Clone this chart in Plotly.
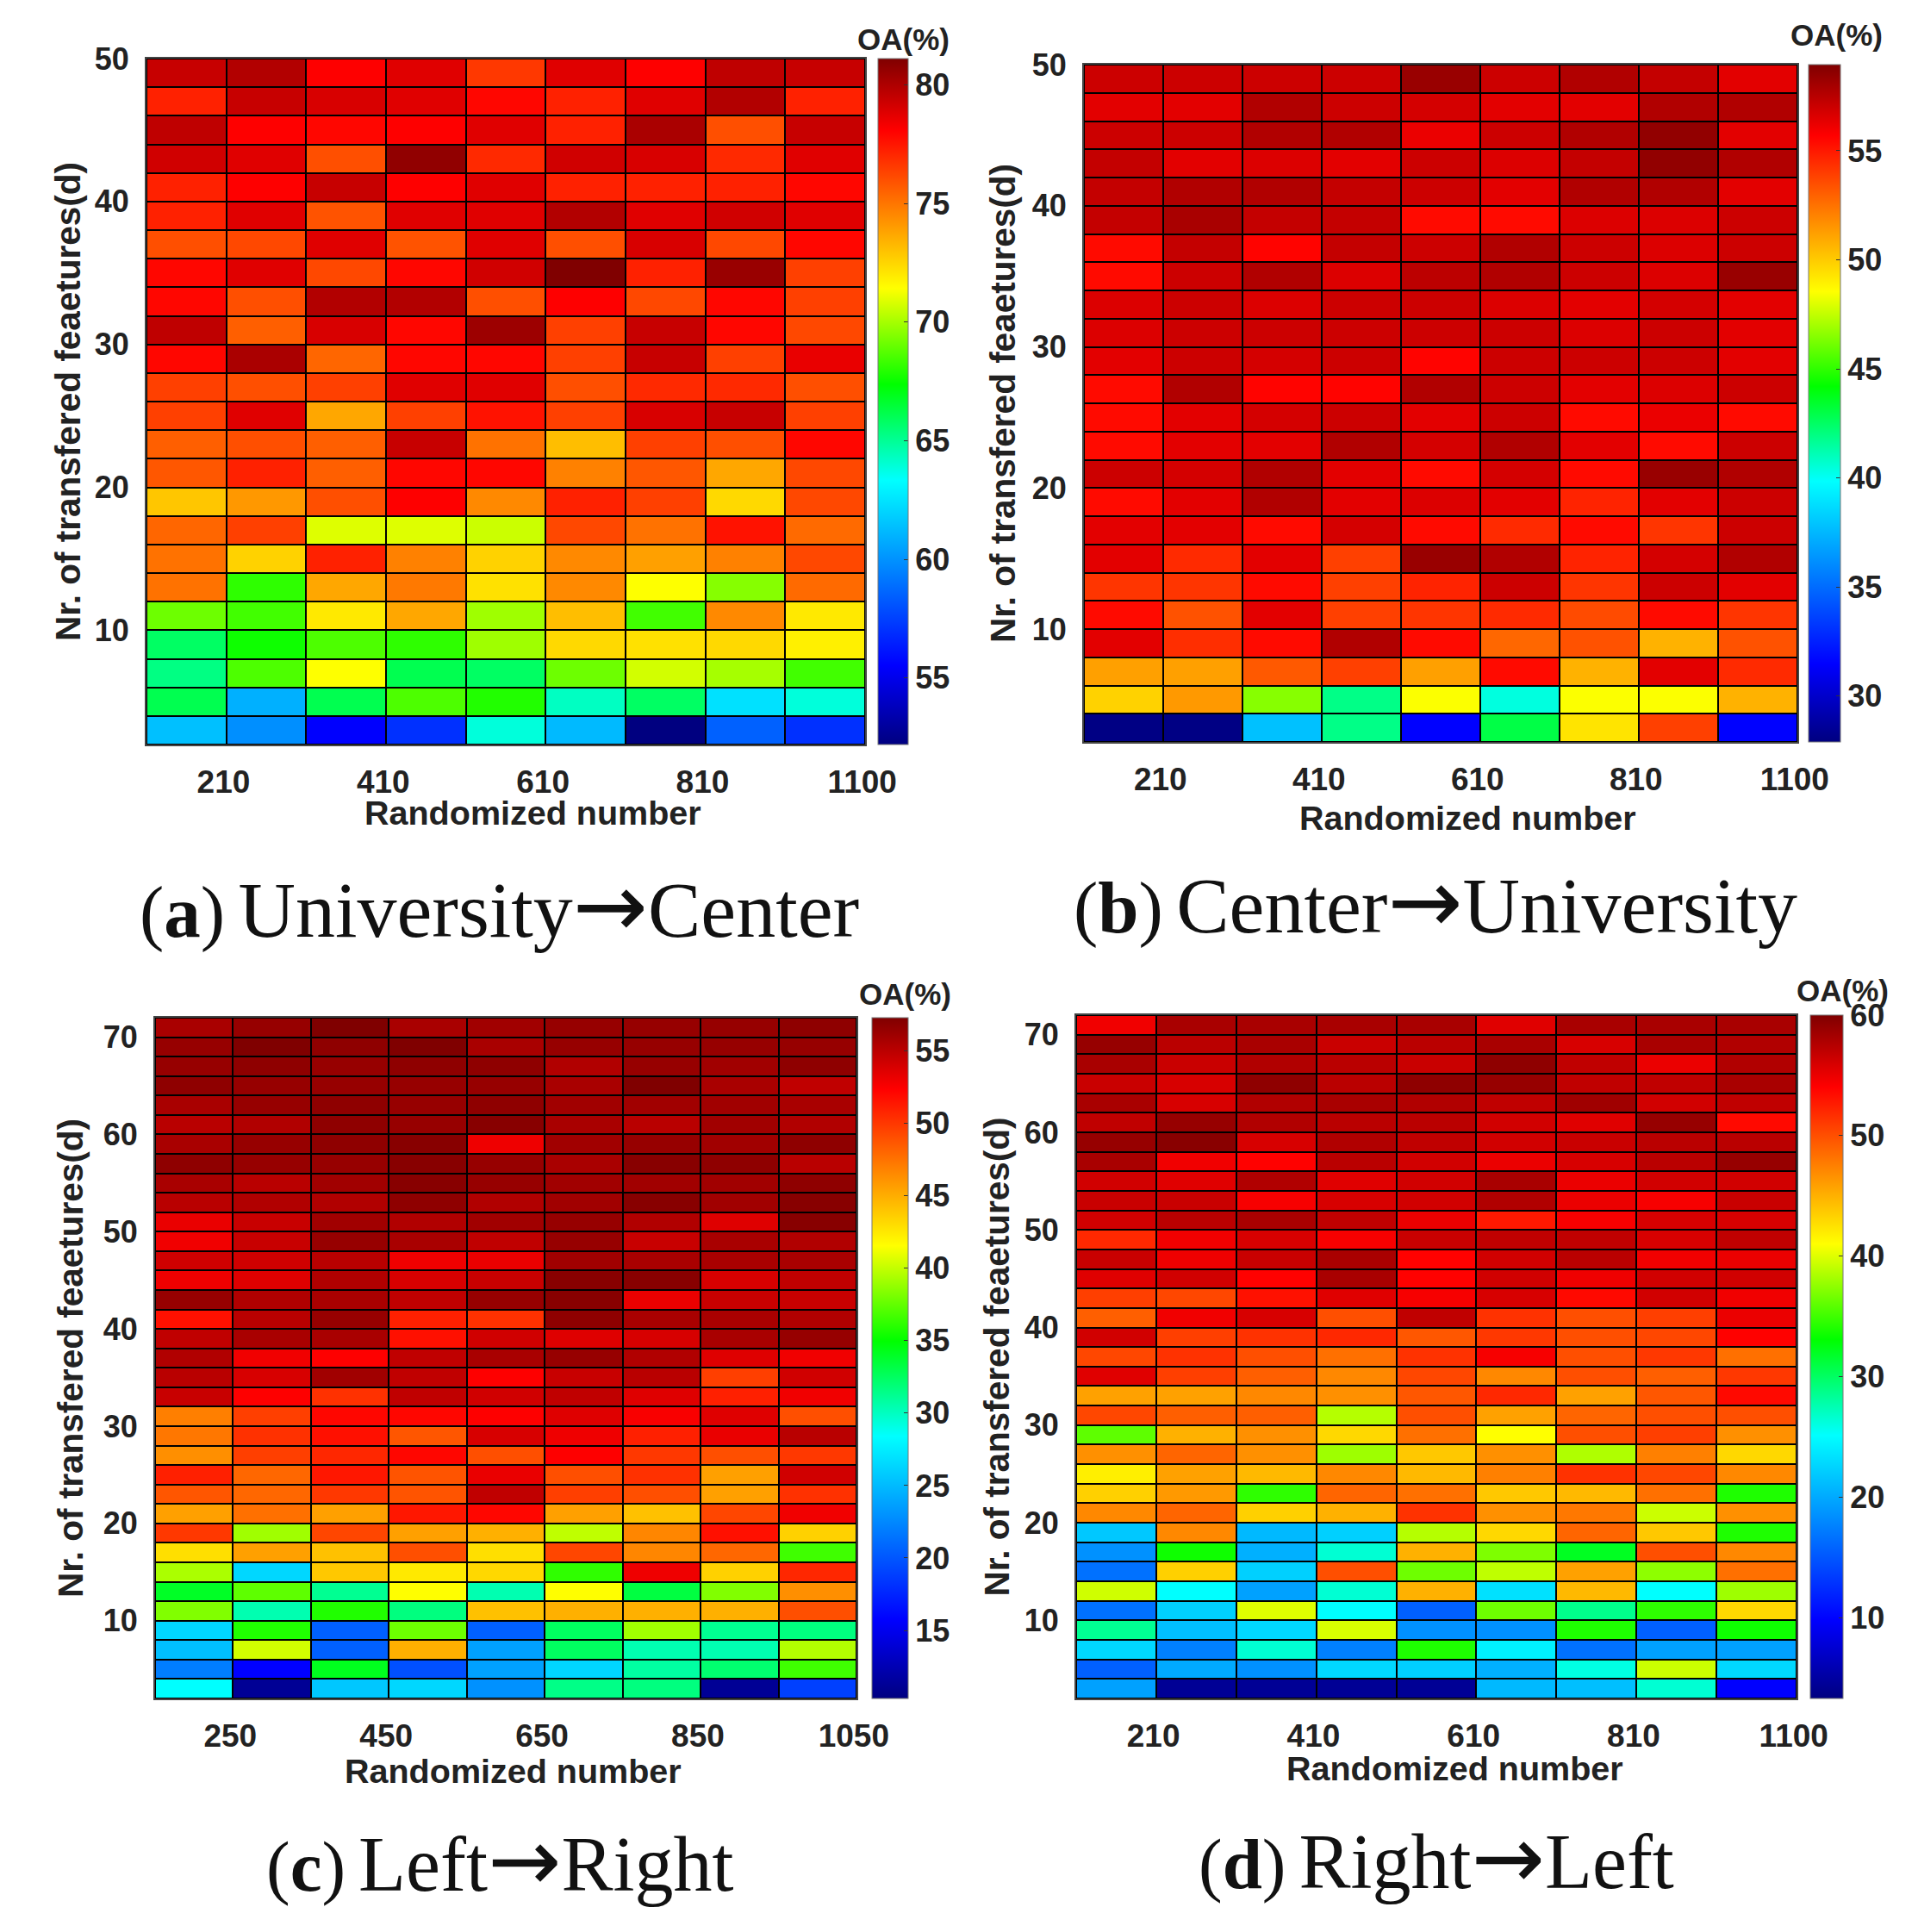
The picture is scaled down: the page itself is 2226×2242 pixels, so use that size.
# OA heatmaps for the four transfer tasks
import plotly.graph_objects as go

x_edges = [0, 1, 2, 3, 4, 5, 6, 7, 8, 9]
y_edges_short = [50, 48, 46, 44, 42, 40, 38, 36, 34, 32, 30, 28, 26, 24, 22, 20, 18, 16, 14, 12, 10, 8, 6, 4, 2]
y_edges_long = [72, 70, 68, 66, 64, 62, 60, 58, 56, 54, 52, 50, 48, 46, 44, 42, 40, 38, 36, 34, 32, 30, 28, 26, 24, 22,
                20, 18, 16, 14, 12, 10, 8, 6, 4, 2]

x_ticks = [0.965, 2.965, 4.965, 6.965, 8.965]
x_labels_abd = ["210", "410", "610", "810", "1100"]
x_labels_c = ["250", "450", "650", "850", "1050"]

oa_a = [
    [79.4, 79.9, 78.1, 78.8, 76.6, 78.8, 78.1, 79.6, 79.4],
    [77.2, 79.4, 79.0, 78.8, 77.9, 77.2, 78.8, 79.9, 77.2],
    [79.6, 78.1, 77.9, 78.1, 78.8, 77.2, 80.1, 76.0, 79.4],
    [79.2, 78.8, 76.0, 80.7, 77.0, 79.2, 79.0, 77.0, 78.8],
    [77.2, 78.1, 79.4, 78.1, 78.8, 77.2, 77.2, 77.2, 77.9],
    [77.2, 78.8, 75.9, 78.8, 78.8, 79.9, 78.8, 79.2, 78.8],
    [76.0, 76.2, 78.8, 75.9, 78.8, 76.0, 79.0, 76.2, 77.9],
    [77.9, 78.8, 76.2, 77.9, 79.2, 81.1, 77.2, 80.5, 76.4],
    [77.9, 76.0, 79.9, 79.9, 76.0, 78.1, 76.2, 77.9, 76.4],
    [79.6, 75.6, 79.0, 77.9, 80.4, 76.4, 79.4, 77.9, 76.2],
    [77.9, 80.1, 75.4, 77.9, 77.9, 76.4, 79.4, 76.4, 78.6],
    [76.4, 76.0, 76.4, 78.8, 78.8, 76.0, 77.0, 77.0, 76.0],
    [76.4, 78.8, 73.7, 76.4, 77.6, 76.4, 79.0, 79.4, 76.4],
    [75.6, 76.0, 75.6, 79.4, 75.1, 73.1, 76.4, 76.0, 77.9],
    [75.8, 77.2, 75.6, 77.9, 77.9, 74.7, 75.8, 73.7, 76.2],
    [72.9, 74.1, 76.0, 78.1, 74.5, 77.2, 76.4, 72.4, 76.2],
    [75.4, 76.4, 70.9, 70.9, 70.6, 76.2, 75.1, 77.6, 75.3],
    [75.1, 72.6, 77.2, 74.7, 72.6, 74.5, 73.9, 74.7, 76.2],
    [75.1, 68.1, 73.7, 74.9, 72.2, 74.5, 71.4, 69.5, 75.3],
    [69.1, 68.4, 72.0, 73.7, 69.9, 73.1, 68.4, 74.5, 72.0],
    [65.8, 67.6, 68.6, 68.1, 69.9, 72.4, 72.2, 72.4, 71.8],
    [65.3, 68.6, 71.4, 66.1, 65.8, 69.1, 70.7, 70.0, 68.4],
    [66.1, 60.9, 66.1, 68.6, 67.9, 64.3, 65.8, 62.4, 63.9],
    [61.4, 59.9, 55.5, 57.0, 63.9, 61.2, 52.2, 58.5, 57.0],
]

oa_b = [
    [57, 57, 57, 57, 58.3, 57, 57.7, 57.2, 56.4],
    [56.4, 56.4, 57.7, 57, 56.8, 56.4, 56.4, 57.7, 57.7],
    [57, 57, 57.7, 57.7, 56.2, 57, 57.7, 58.5, 56.4],
    [57.2, 56.4, 56.6, 56.4, 57, 56.6, 57.2, 58.5, 57.7],
    [57.2, 57.7, 57.7, 57.2, 57, 56.4, 57.7, 57.7, 56.4],
    [57.2, 57.9, 57.2, 57.2, 55.4, 55.4, 56.6, 56.6, 57],
    [55.4, 57.2, 55.6, 57.2, 57, 57.7, 57, 56.6, 57],
    [55.4, 57, 57.7, 56.6, 57.4, 57.7, 57, 56.6, 58.3],
    [56.6, 57, 56.6, 57, 57, 56.6, 56.4, 56.8, 56.4],
    [56.6, 57, 57, 57, 57, 57, 56.6, 57, 56.4],
    [56.4, 57, 56.8, 57, 55.6, 57, 57, 57, 56.4],
    [55.4, 57.7, 55.6, 55.6, 57.7, 57, 56.4, 56.6, 57],
    [55.4, 56.4, 56.8, 57, 56.4, 57, 55.4, 56.2, 55.4],
    [55.4, 56.4, 56.4, 57.7, 56.8, 57.7, 56.4, 55.4, 57],
    [57, 56.8, 57.7, 56.4, 55.4, 56.8, 55.4, 58.3, 57.7],
    [55.4, 56.4, 57.7, 56.4, 56.6, 56.4, 54.7, 56.4, 57],
    [56.4, 56.4, 55.4, 56.8, 55.4, 54.5, 55.4, 54.2, 57],
    [56.4, 54.5, 56.4, 53.9, 58.3, 57.7, 54.7, 56.8, 57.7],
    [54.2, 54.2, 55.4, 53.9, 54.7, 57, 54.2, 57, 56.4],
    [55.4, 53.4, 56.4, 53.9, 54.2, 54.5, 53.6, 55.4, 54.2],
    [56.4, 54.4, 55.4, 57.7, 55.4, 52.8, 53.4, 50.7, 53.4],
    [51.2, 51.2, 53.2, 53.9, 51.2, 55.4, 50.7, 56.4, 54.5],
    [49.8, 51.4, 46.5, 41.9, 48.5, 40.4, 48.5, 48.5, 50.7],
    [28, 28, 37.8, 41.9, 31.5, 43, 49.3, 53.9, 31.5],
]

oa_c = [
    [55.7, 56.4, 57.3, 55.7, 56, 56.4, 56.4, 56.4, 56.7],
    [56.4, 57.3, 56.7, 57.3, 55.7, 56.4, 56.4, 56.4, 56.4],
    [56.4, 56.7, 56.4, 56.7, 56.7, 55.4, 56.4, 56, 56.7],
    [56.7, 56.4, 56.4, 56.4, 56.4, 55.7, 57.3, 55.7, 54.8],
    [55.7, 56.4, 56.7, 56.4, 56.7, 56, 56, 56, 55.7],
    [55.1, 55.4, 56.7, 56.4, 57, 55.7, 55.1, 56, 55.4],
    [55.7, 56.4, 56.7, 57, 53, 56, 56.4, 56, 56.7],
    [56.7, 56.4, 56.4, 57, 56.4, 55.7, 57, 56.7, 55.1],
    [55.7, 55.1, 56, 57, 56.4, 56, 56, 56, 56.7],
    [55.1, 55.4, 55.4, 56.7, 55.4, 56, 57, 56, 57],
    [53.2, 54.5, 56, 55.4, 56, 56.4, 55.4, 53.6, 57],
    [52.9, 54.5, 56.4, 55.7, 54.8, 56.4, 54.5, 55.7, 55.4],
    [54.2, 54.2, 55.1, 53, 53.2, 56, 55.7, 55.7, 55.7],
    [53, 53.6, 55.4, 53.9, 54.5, 57, 57, 53.9, 54.8],
    [56.4, 55.4, 55.7, 54.8, 56.4, 57, 53.2, 54.5, 54.5],
    [51.7, 55.1, 56.4, 51, 50.3, 56.7, 55.7, 55.7, 55.4],
    [54.8, 55.7, 55.7, 51.7, 54.2, 53.6, 53.9, 55.7, 56.4],
    [55.4, 52.9, 52.4, 54.8, 55.7, 56.4, 55.4, 53.6, 52.9],
    [55.1, 53.9, 56, 54.8, 52.4, 54.5, 55.1, 49.7, 54.2],
    [54.5, 52.4, 50.3, 54.8, 54.2, 54.8, 53.6, 51, 52.9],
    [47, 49.7, 52.1, 52.1, 52.4, 53.6, 52.6, 53.6, 49],
    [47.3, 50.3, 51.7, 48.7, 53.9, 53, 51, 53.2, 55.1],
    [46.3, 49.7, 50.7, 52.1, 49, 52.4, 50, 49, 50],
    [51, 48, 51.4, 48.8, 53.2, 49, 50.3, 45.6, 54.2],
    [48.7, 48, 50, 48.8, 54.8, 49.7, 49, 45.6, 50.3],
    [45.6, 47.6, 45.6, 51.4, 52.1, 45.6, 44.2, 49.4, 52.9],
    [50, 39.1, 49.4, 45.6, 44.9, 39.9, 46.7, 51.7, 43.5],
    [42.9, 45.6, 44.2, 49, 42.9, 49.4, 46.7, 48, 36.6],
    [39.4, 26.4, 43.9, 42.5, 43.2, 36.2, 53, 43.5, 50.7],
    [34, 37.4, 31.2, 41.6, 30.4, 41.6, 33.3, 38.3, 46.3],
    [38.3, 30.4, 35.8, 31.7, 44.2, 44.9, 44.9, 44.9, 49],
    [26.4, 35.8, 20.5, 37.8, 20.5, 32.5, 39.1, 31.2, 31.7],
    [25.2, 40.4, 20.5, 44.9, 23.7, 32.5, 30.4, 30.4, 39.6],
    [22, 15.7, 34.2, 19.7, 23.7, 26.4, 30.8, 32.1, 36.6],
    [28.4, 11.2, 25.6, 26.4, 22.9, 31.5, 31.7, 11.2, 18.9],
]

oa_d = [
    [54.7, 58.1, 58.1, 58.1, 58.1, 55.5, 58.1, 58.1, 58.1],
    [58.9, 57.3, 58.1, 56.6, 57.3, 58.1, 55.9, 58.1, 57.7],
    [58.1, 56.6, 57.7, 57.3, 56.6, 59.3, 57, 55, 57.7],
    [56.6, 55.9, 59.3, 57.3, 59.3, 58.9, 57, 57, 58.1],
    [58.1, 55.9, 57.7, 58.1, 57.7, 57, 58.5, 56.2, 57],
    [57, 58.9, 57.7, 57.3, 57.3, 56.2, 55.5, 58.9, 53.6],
    [58.9, 59.6, 55.9, 57.7, 57, 56.2, 56.6, 57.3, 57.3],
    [58.1, 54.7, 54, 57.3, 56.2, 55, 55.9, 57.3, 58.9],
    [56.2, 55.5, 57.7, 55.5, 56.2, 58.1, 55, 56.2, 56.2],
    [56.6, 56.6, 54.4, 55.9, 56.2, 57.7, 55, 54.4, 56.6],
    [56.2, 57.3, 58.1, 57, 55, 52.8, 54.4, 55.9, 55.9],
    [52, 54.7, 55.9, 54.4, 56.6, 57, 57, 55.9, 57],
    [56.6, 54.8, 56.6, 58.1, 54, 56.2, 57.3, 54.7, 55],
    [55.5, 56.2, 54, 58.1, 54, 56.2, 54.8, 56.2, 56.2],
    [50.8, 50.4, 53.2, 55.5, 54.4, 55.9, 53.6, 56.2, 54.7],
    [49.2, 54.7, 55.9, 50, 57, 51.5, 50, 50.8, 55],
    [56.2, 50.8, 51.5, 52, 49.6, 51.2, 50, 50.4, 54],
    [50.4, 51.5, 50, 48.3, 51.5, 54.4, 50, 51.2, 48.3],
    [55.5, 50.8, 49.2, 47.1, 50.4, 47.1, 50, 49.2, 51.2],
    [45.8, 45.8, 47.1, 46.7, 49.6, 52, 45.8, 49.6, 53.6],
    [50.4, 49.2, 49.2, 38.7, 50, 45.8, 48.9, 50, 50],
    [36, 45, 46.7, 43, 48.3, 41, 50, 50.8, 46.7],
    [46.7, 48.9, 46.7, 38, 43.8, 46.7, 38.5, 47.5, 43],
    [41.8, 45.8, 44.6, 47.1, 44.6, 47.5, 51.5, 50.4, 47.1],
    [43.4, 46.2, 34.5, 48.9, 48.3, 43.8, 44.6, 48.3, 34],
    [47.1, 48.9, 43.4, 45, 51.5, 46.7, 47.9, 39.4, 46.7],
    [21.8, 47.1, 20.9, 22.3, 38.7, 43, 48.9, 43.8, 34],
    [18.5, 33.5, 20.4, 26.5, 45, 37, 32, 50, 47.1],
    [16.6, 43.4, 22.3, 50, 36.5, 39, 45.8, 37.5, 48.3],
    [39.5, 25.1, 19.5, 26.5, 45, 23.3, 44.6, 25.1, 38],
    [16.6, 22.3, 40, 25.1, 15.6, 36.5, 28.7, 34.5, 43],
    [28.5, 21.3, 22.8, 39.8, 18.5, 18.5, 34, 15.6, 33.5],
    [22.8, 17.5, 26.5, 17.5, 34, 24.3, 16.6, 19.5, 19.5],
    [15.6, 20, 18.5, 22.8, 22.3, 20.4, 26, 39.4, 22.8],
    [19.5, 4.4, 4.4, 4.4, 4.4, 20.9, 21.3, 26.5, 9.8],
]

jet = [
    [0, "#000080"], [0.115, "#0000ff"], [0.385, "#00ffff"], [0.525, "#00ff00"],
    [0.665, "#ffff00"], [0.895, "#ff0000"], [1, "#800000"],
]

W, H = 2226, 2242
ink = "#222222"
sans = "Liberation Sans"


def px(v):
    return v / W


def py(v):
    return 1 - v / H


def caption(letter, left, right, size):
    # source has a tighter "(a)" and a long thin arrow
    tag = f"<span style=\"font-size:{round(size * 0.92)}px\">(<b>{letter}</b>)</span>\u2006"
    arrow = f"<span style=\"font-family:'DejaVu Sans';font-size:{round(size * 1.13)}px\">→</span>"
    return f"{tag}{left}{arrow}{right}"


panels = [
    dict(z=oa_a, y=y_edges_short, xl=x_labels_abd, yt=[10, 20, 30, 40, 50], zr=(52.2, 81.1),
         ct=[55, 60, 65, 70, 75, 80], box=(162, 996, 60, 856), cb=(1011, 1046),
         oa=(1040, 59), xt=(610, 935), cap_size=92, ystand=4,
         cap=caption("a", "University", "Center", 92), capxy=(571, 1043)),
    dict(z=oa_b, y=y_edges_short, xl=x_labels_abd, yt=[10, 20, 30, 40, 50], zr=(27.9, 58.95),
         ct=[30, 35, 40, 45, 50, 55], box=(1250, 2078, 67, 853), cb=(2091, 2128),
         oa=(2123, 54), xt=(1695, 941), cap_size=92, ystand=7,
         cap=caption("b", "Center", "University", 92), capxy=(1658, 1038)),
    dict(z=oa_c, y=y_edges_long, xl=x_labels_c, yt=[10, 20, 30, 40, 50, 60, 70], zr=(10.3, 57.3),
         ct=[15, 20, 25, 30, 35, 40, 45, 50, 55], box=(172, 986, 1173, 1963), cb=(1004, 1046),
         oa=(1042, 1167), xt=(587, 2047), cap_size=90, ystand=11,
         cap=caption("c", "Left", "Right", 90), capxy=(572, 2150)),
    dict(z=oa_d, y=y_edges_long, xl=x_labels_abd, yt=[10, 20, 30, 40, 50, 60, 70], zr=(3.3, 60),
         ct=[10, 20, 30, 40, 50, 60], box=(1241, 2077, 1170, 1963), cb=(2093, 2131),
         oa=(2130, 1163), xt=(1680, 2044), cap_size=90, ystand=5,
         cap=caption("d", "Right", "Left", 90), capxy=(1659, 2147)),
]

fig = go.Figure()
layout = {}
for i, p in enumerate(panels):
    n = "" if i == 0 else str(i + 1)
    x0, x1, y0, y1 = p["box"]
    c0, c1 = p["cb"]
    fig.add_trace(go.Heatmap(
        z=p["z"], x=x_edges, y=p["y"], xaxis=f"x{n}", yaxis=f"y{n}",
        colorscale=jet, zmin=p["zr"][0], zmax=p["zr"][1], xgap=2, ygap=2, hoverongaps=False,
        colorbar=dict(
            x=px(c0), xanchor="left", xpad=0, ypad=0,
            y=py(y1), yanchor="bottom", len=(y1 - y0) / H, lenmode="fraction",
            thickness=c1 - c0, thicknessmode="pixels",
            tickvals=p["ct"], ticks="inside", ticklen=5, tickcolor="#333333", tickprefix="\u2009",
            outlinecolor="#777777", outlinewidth=1,
            tickfont=dict(family=sans, size=36, color=ink, weight="bold"),
        ),
    ))
    layout[f"xaxis{n}"] = dict(
        domain=[px(x0), px(x1)], anchor=f"y{n}", range=[0, 9],
        tickvals=x_ticks, ticktext=p["xl"], ticks="", ticklabelstandoff=10,
        showgrid=False, zeroline=False, showline=True, linecolor="#444444", linewidth=2, mirror=True,
        tickfont=dict(family=sans, size=37, color=ink, weight="bold"),
    )
    layout[f"yaxis{n}"] = dict(
        domain=[py(y1), py(y0)], anchor=f"x{n}", range=[2, p["y"][0]],
        tickvals=p["yt"], ticks="", ticklabelstandoff=11,
        showgrid=False, zeroline=False, showline=True, linecolor="#444444", linewidth=2, mirror=True,
        tickfont=dict(family=sans, size=36, color=ink, weight="bold"),
        title=dict(text="Nr. of transfered feaetures(d)", standoff=p["ystand"],
                   font=dict(family=sans, size=40.5, color=ink, weight="bold")),
    )
    # x title sits off-centre in the source, so it is placed by hand
    fig.add_annotation(text="Randomized number", xref="paper", yref="paper", x=px(p["xt"][0]), y=py(p["xt"][1]),
                       xanchor="center", yanchor="middle", showarrow=False,
                       font=dict(family=sans, size=39.5, color=ink, weight="bold"))
    # colorbar heading
    fig.add_annotation(text="OA(%)", xref="paper", yref="paper", x=px(p["oa"][0]), y=py(p["oa"][1]),
                       xanchor="center", yanchor="bottom", showarrow=False,
                       font=dict(family=sans, size=35, color=ink, weight="bold"))
    # panel caption under the heatmap
    fig.add_annotation(text=p["cap"], xref="paper", yref="paper", x=px(p["capxy"][0]), y=py(p["capxy"][1]),
                       xanchor="center", yanchor="middle", showarrow=False,
                       font=dict(family="Liberation Serif", size=p["cap_size"], color="#111111"))

fig.update_layout(
    width=W, height=H, margin=dict(l=0, r=0, t=0, b=0, autoexpand=False),
    paper_bgcolor="white", plot_bgcolor="black",
    **layout,
)

fig.write_html("out.html")
